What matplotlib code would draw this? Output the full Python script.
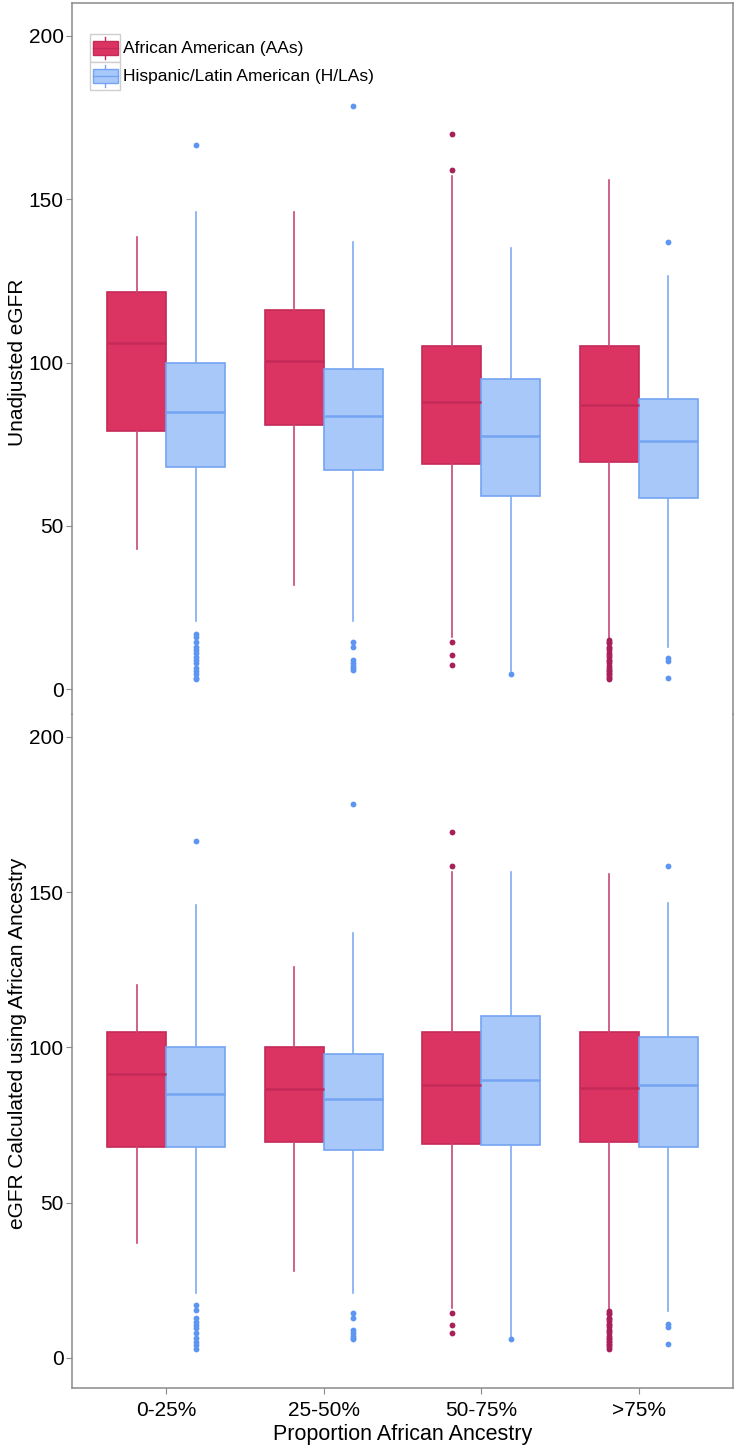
import matplotlib
matplotlib.use("Agg")
import matplotlib.pyplot as plt
from matplotlib.legend_handler import HandlerBase
from matplotlib.patches import Rectangle, Patch
from matplotlib.lines import Line2D

plt.rcParams['font.family'] = ['Liberation Sans', 'DejaVu Sans']

# categories
groups = ['0-25%', '25-50%', '50-75%', '>75%']
series = ['African American (AAs)', 'Hispanic/Latin American (H/LAs)']

# five-number summaries per group: (whisker low, Q1, median, Q3, whisker high)
unadj_aa = [(43, 79, 106, 121.5, 138.5),
            (32, 81, 100.5, 116, 146),
            (16, 69, 88, 105, 157),
            (15.5, 69.5, 87, 105, 156)]
unadj_hla = [(21, 68, 85, 100, 146),
             (21, 67, 83.5, 98, 137),
             (5.5, 59, 77.5, 95, 135),
             (13, 58.5, 76, 89, 126.5)]
adj_aa = [(37, 68, 91.5, 105, 120),
          (28, 69.5, 86.5, 100, 126),
          (16, 69, 88, 105, 156.5),
          (15.5, 69.5, 87, 105, 156)]
adj_hla = [(21, 68, 85, 100, 146),
           (21, 67, 83.5, 98, 137),
           (6, 68.5, 89.5, 110, 156.5),
           (15, 68, 88, 103.5, 146.5)]

# outliers per group
unadj_aa_out = [[],
                [],
                [170, 159, 14.5, 10.5, 7.5],
                [15, 14.5, 14, 13, 12.5, 12, 11, 10.5, 10, 9, 8.5, 8, 7, 6.5, 6, 5.5, 5, 4.5, 4, 3.5, 3]]
unadj_hla_out = [[166.5, 17, 16, 14.5, 13, 12, 11, 10, 9, 8, 6.5, 5.5, 4.5, 3.5, 3],
                 [178.5, 14.5, 13, 9, 8, 7, 6.5, 6],
                 [4.5],
                 [137, 9.5, 8.5, 3.5]]
adj_aa_out = [[],
              [],
              [169.5, 158.5, 14.5, 10.5, 8],
              [15, 14.5, 14, 13, 12.5, 12, 11, 10.5, 10, 9, 8.5, 8, 7, 6.5, 6, 5.5, 5, 4.5, 4, 3.5, 3]]
adj_hla_out = [[166.5, 17, 15.5, 13, 11.5, 10.5, 9.5, 8, 6.5, 5, 4, 3],
               [178.5, 14.5, 13, 9, 8, 7, 6.5, 6],
               [6],
               [158.5, 11, 10, 4.5]]

red_fill, red_edge, red_dot, red_wh = '#DC3462', '#C42A58', '#A8205A', '#C5487A'
blue_fill, blue_edge, blue_dot, blue_wh = '#A8C8FA', '#74A4F2', '#5C96F0', '#7EABF4'

W, H = 737, 1449
fig = plt.figure(figsize=(W / 100, H / 100), dpi=100)


def rect(l, t, r, b):
    return [l / W, 1 - b / H, (r - l) / W, (b - t) / H]


def stats(five, out):
    res = []
    for (lo, q1, med, q3, hi), fl in zip(five, out):
        res.append(dict(whislo=lo, q1=q1, med=med, q3=q3, whishi=hi, fliers=fl))
    return res


def draw(ax, five, out, offset, fill, edge, dot, wh):
    ax.bxp(stats(five, out), positions=[i + 1 + offset for i in range(len(groups))],
           widths=0.375, patch_artist=True, showcaps=False,
           boxprops=dict(facecolor=fill, edgecolor=edge, linewidth=1.2),
           medianprops=dict(color=edge, linewidth=1.8),
           whiskerprops=dict(color=wh, linewidth=1.2),
           flierprops=dict(marker='o', markerfacecolor=dot, markeredgecolor='none',
                           markersize=4.2))


ax1 = fig.add_axes(rect(72, 3, 733, 714), facecolor='none')
ax2 = fig.add_axes(rect(72, 714, 733, 1388), facecolor='none')

draw(ax1, unadj_aa, unadj_aa_out, -0.1875, red_fill, red_edge, red_dot, red_wh)
draw(ax1, unadj_hla, unadj_hla_out, 0.1875, blue_fill, blue_edge, blue_dot, blue_wh)
draw(ax2, adj_aa, adj_aa_out, -0.1875, red_fill, red_edge, red_dot, red_wh)
draw(ax2, adj_hla, adj_hla_out, 0.1875, blue_fill, blue_edge, blue_dot, blue_wh)

for ax in (ax1, ax2):
    ax.set_xlim(0.4, 4.6)
    ax.set_yticks([0, 50, 100, 150, 200])
    for s in ax.spines.values():
        s.set_color('#8a8a8a')
        s.set_linewidth(1.1)
        s.set_capstyle('projecting')
    ax.tick_params(axis='y', length=4, color='#8a8a8a', labelsize=15, pad=2)
    ax.tick_params(axis='x', length=4, color='#8a8a8a', labelsize=15, pad=5)

ax1.set_ylim(-7.6, 210.1)
ax2.set_ylim(-9.7, 207.4)
ax1.spines['bottom'].set_visible(False)
ax2.spines['top'].set_visible(False)
ax1.tick_params(axis='x', bottom=False, labelbottom=False)
ax2.set_xticks(range(1, len(groups) + 1))
ax2.set_xticklabels(groups)
ax2.set_xlabel('Proportion African Ancestry', fontsize=15.5, labelpad=3)

fig.text(18 / W, 1 - 362 / H, 'Unadjusted eGFR', rotation=90, ha='center', va='center', fontsize=15)
fig.text(18 / W, 1 - 1043 / H, 'eGFR Calculated using African Ancestry', rotation=90,
         ha='center', va='center', fontsize=15)


class BoxKey(HandlerBase):
    def create_artists(self, legend, orig_handle, xdescent, ydescent, width, height, fontsize, trans):
        fc = orig_handle.get_facecolor()
        ec = orig_handle.get_edgecolor()
        x0, y0 = -xdescent, -ydescent
        cx = x0 + width / 2
        bh = height * 0.5
        by = y0 + (height - bh) / 2
        arts = [Rectangle((x0, y0), width, height, facecolor='white', edgecolor='#cfcfcf',
                          lw=1.0, transform=trans),
                Line2D([cx, cx], [y0 + 2, by], color=ec, lw=1.0, transform=trans),
                Line2D([cx, cx], [by + bh, y0 + height - 2], color=ec, lw=1.0, transform=trans),
                Rectangle((x0 + 2, by), width - 4, bh, facecolor=fc, edgecolor=ec, lw=1.0, transform=trans),
                Line2D([x0 + 2, x0 + width - 2], [by + bh / 2] * 2, color=ec, lw=1.0, transform=trans)]
        return arts


handles = [Patch(facecolor=red_fill, edgecolor=red_edge), Patch(facecolor=blue_fill, edgecolor=blue_edge)]
leg = ax1.legend(handles, series, loc='upper left', bbox_to_anchor=((90 - 72) / 661, (714 - 34) / 711),
                 borderaxespad=0, fontsize=12.5, frameon=False, handler_map={Patch: BoxKey()},
                 handlelength=1.75, handleheight=2.1, handletextpad=0.15, labelspacing=0.0,
                 borderpad=0)

fig.savefig('out.png', dpi=100)
